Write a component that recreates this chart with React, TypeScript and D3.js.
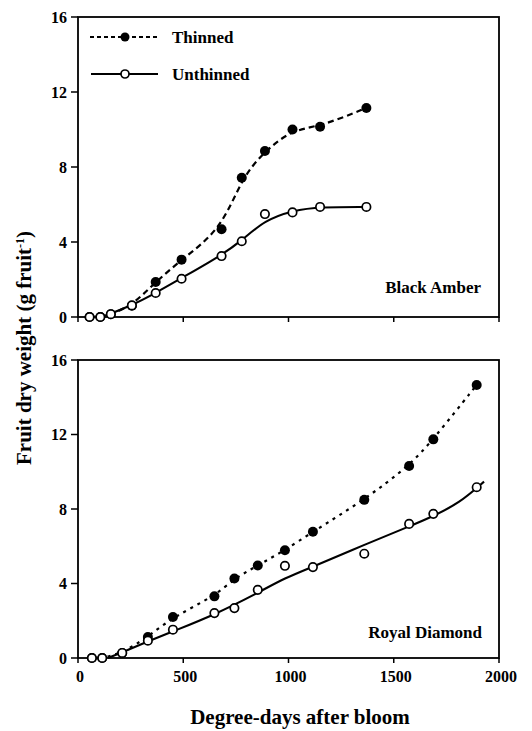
import React from 'react';
import * as d3 from 'd3';

// Black Amber
const baDays = [55, 106, 156, 256, 369, 492, 682, 778, 888, 1019, 1150, 1370];
const baThinned = [0, 0, 0.15, 0.6, 1.87, 3.06, 4.68, 7.43, 8.85, 10.0, 10.15, 11.15];
const baUnthinned = [0, 0, 0.15, 0.62, 1.28, 2.04, 3.25, 4.04, 5.49, 5.58, 5.87, 5.87];

// fitted curve for Black Amber unthinned
const baUnthinnedFitDays = [114, 256, 369, 492, 682, 780, 887, 1021, 1151, 1372];
const baUnthinnedFit = [0, 0.62, 1.28, 2.08, 3.29, 4.1, 5.16, 5.69, 5.87, 5.87];

// Royal Diamond
const rdDays = [66, 115, 210, 332, 451, 648, 743, 854, 983, 1116, 1360, 1573, 1688, 1894];
const rdThinned = [0, 0, 0.27, 1.13, 2.2, 3.31, 4.27, 4.97, 5.79, 6.78, 8.49, 10.31, 11.74, 14.66];
const rdUnthinned = [0, 0, 0.27, 0.93, 1.52, 2.41, 2.68, 3.66, 4.95, 4.88, 5.6, 7.2, 7.74, 9.17];

// fitted curve for Royal Diamond unthinned
const rdUnthinnedFitDays = [142, 210, 332, 451, 648, 854, 983, 1116, 1360, 1573, 1684, 1810, 1929];
const rdUnthinnedFit = [0, 0.3, 0.89, 1.43, 2.32, 3.49, 4.3, 4.9, 6.08, 7.06, 7.6, 8.3, 9.47];

const xTicks = [0, 500, 1000, 1500, 2000];
const yTicks = [0, 4, 8, 12, 16];

const FONT = '"Liberation Serif", "Times New Roman", serif';

const left = 78;
const right = 499;

type PanelProps = {
  top: number;
  bottom: number;
  days: number[];
  thinned: number[];
  unthinned: number[];
  fitDays: number[];
  fit: number[];
  name: string;
  nameX: number;
  nameY: number;
  dash: string;
  showXLabels: boolean;
  legend: boolean;
};

function Panel({ top, bottom, days, thinned, unthinned, fitDays, fit, name, nameX, nameY, dash, showXLabels, legend }: PanelProps) {
  const x = d3.scaleLinear().domain([0, 2000]).range([left, right]);
  const y = d3.scaleLinear().domain([0, 16]).range([bottom, top]);

  const line = (xs: number[]) => d3.line<number>()
    .x((_, i) => x(xs[i]))
    .y(d => y(d))
    .curve(d3.curveBasis);

  return (
    <g>
      <rect x={left} y={top} width={right - left} height={bottom - top} fill="none" stroke="#000" strokeWidth={1.8} />
      {yTicks.map(t => (
        <g key={'y' + t}>
          <line x1={left - 7} x2={left} y1={y(t)} y2={y(t)} stroke="#000" strokeWidth={1.5} />
          <text x={left - 11} y={y(t) + 5.5} textAnchor="end" fontSize={16} fontWeight="bold" fontFamily={FONT}>{t}</text>
        </g>
      ))}
      {xTicks.map(t => (
        <g key={'x' + t}>
          <line x1={x(t)} x2={x(t)} y1={bottom} y2={bottom + 5} stroke="#000" strokeWidth={1.5} />
          {showXLabels && (
            <text x={x(t) + 2} y={bottom + 24} textAnchor="middle" fontSize={16} fontWeight="bold" fontFamily={FONT}>{t}</text>
          )}
        </g>
      ))}
      <path d={line(days)(thinned) || ''} fill="none" stroke="#000" strokeWidth={2.2} strokeDasharray={dash} />
      <path d={line(fitDays)(fit) || ''} fill="none" stroke="#000" strokeWidth={2.1} />
      {thinned.map((v, i) => (
        <circle key={'t' + i} cx={x(days[i])} cy={y(v)} r={5} fill="#000" />
      ))}
      {unthinned.map((v, i) => (
        <circle key={'u' + i} cx={x(days[i])} cy={y(v)} r={4.2} fill="#fff" stroke="#000" strokeWidth={1.7} />
      ))}
      <text x={nameX} y={nameY} textAnchor="end" fontSize={17} fontWeight="bold" fontFamily={FONT}>{name}</text>
      {legend && (
        <g fontFamily={FONT} fontSize={17} fontWeight="bold">
          <line x1={90} x2={158} y1={37} y2={37} stroke="#000" strokeWidth={1.8} strokeDasharray="4,3" />
          <circle cx={125} cy={37} r={4.5} fill="#000" />
          <text x={172} y={42.5}>Thinned</text>
          <line x1={91} x2={158} y1={74} y2={74} stroke="#000" strokeWidth={1.8} />
          <circle cx={125} cy={74} r={4} fill="#fff" stroke="#000" strokeWidth={1.7} />
          <text x={172} y={79.5}>Unthinned</text>
        </g>
      )}
    </g>
  );
}

export default function App() {
  return (
    <svg width={532} height={731} style={{ position: 'absolute', left: 0, top: 0, background: '#fff' }}>
      <Panel top={17} bottom={317} days={baDays} thinned={baThinned} unthinned={baUnthinned}
        fitDays={baUnthinnedFitDays} fit={baUnthinnedFit}
        name="Black Amber" nameX={481} nameY={293} dash="6,4" showXLabels={false} legend />
      <Panel top={360} bottom={658} days={rdDays} thinned={rdThinned} unthinned={rdUnthinned}
        fitDays={rdUnthinnedFitDays} fit={rdUnthinnedFit}
        name="Royal Diamond" nameX={482} nameY={638} dash="3,5" showXLabels legend={false} />
      <text x={300} y={724} textAnchor="middle" fontSize={21} fontWeight="bold" fontFamily={FONT}>Degree-days after bloom</text>
      <text transform="translate(31,348) rotate(-90)" textAnchor="middle" fontSize={21} fontWeight="bold" fontFamily={FONT}>
        Fruit dry weight (g fruit<tspan dy={-7} fontSize={12}>-1</tspan><tspan dy={7}>)</tspan>
      </text>
    </svg>
  );
}
